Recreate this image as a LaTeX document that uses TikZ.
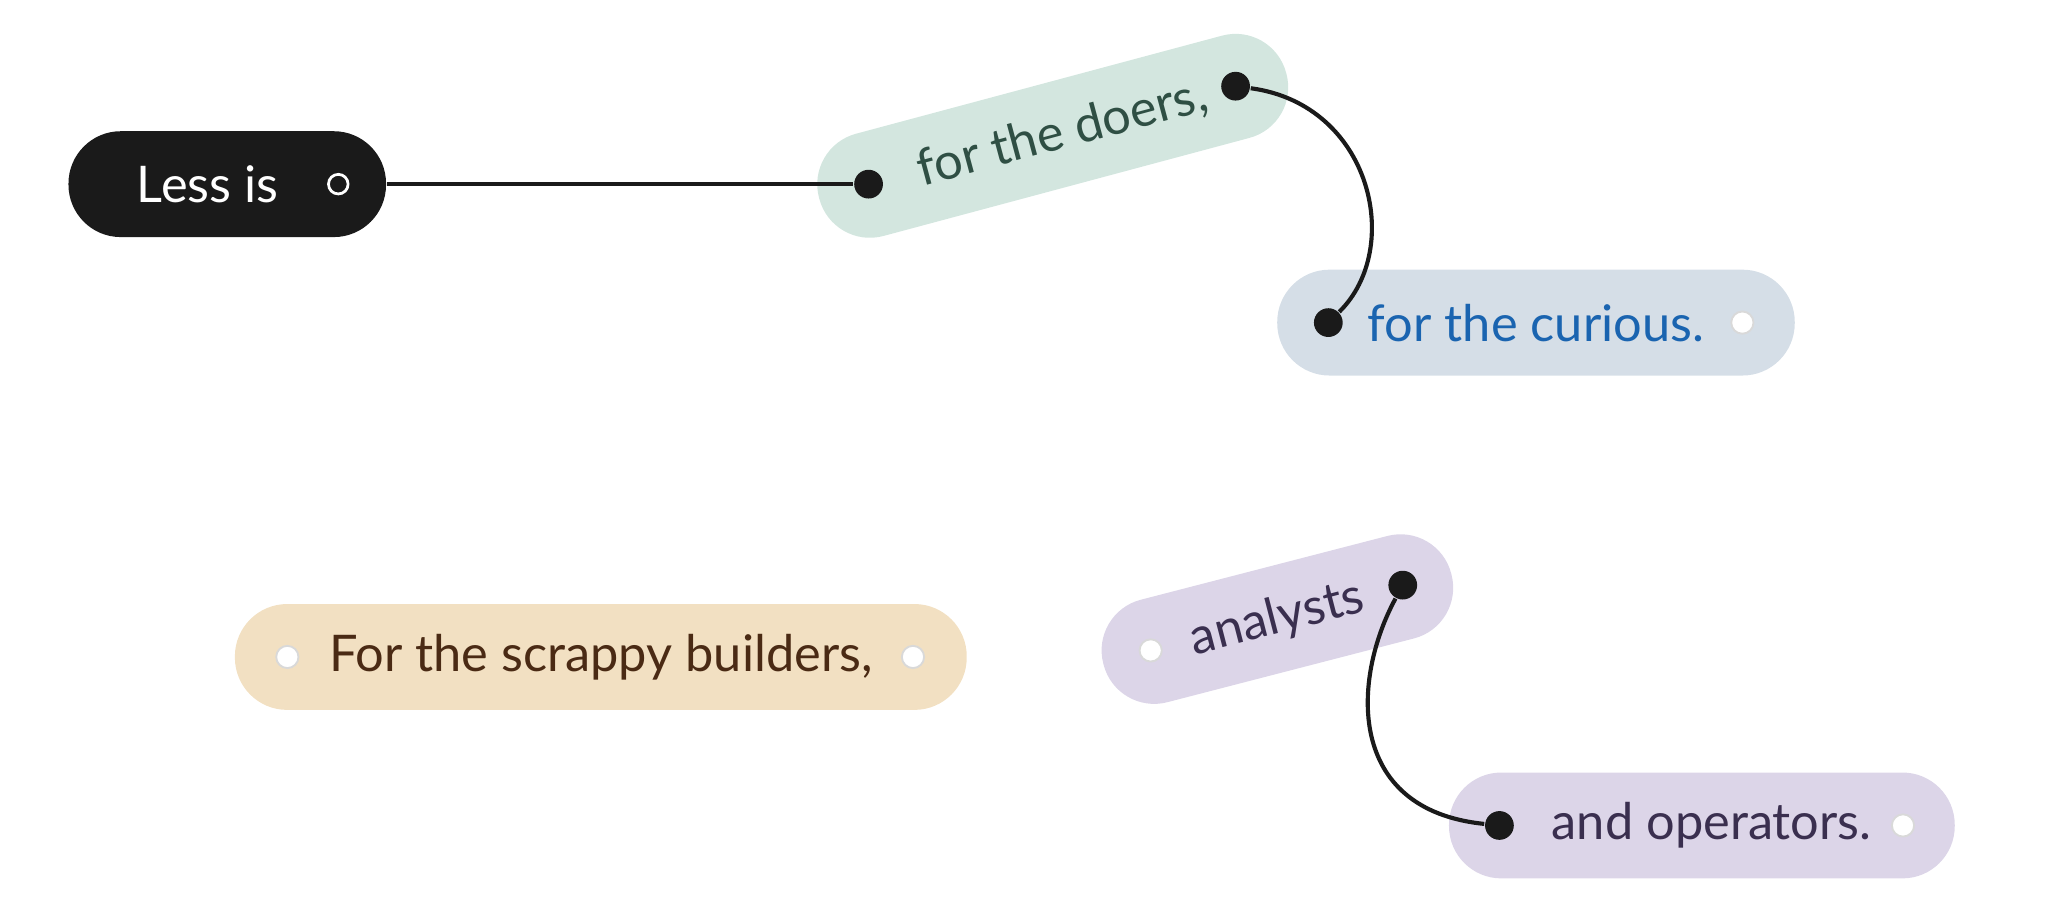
\documentclass[tikz,border=0pt]{standalone}
\usepackage{fontspec}
\setmainfont{Lato}
\definecolor{pillblack}{HTML}{1A1A1A}
\definecolor{doersbg}{HTML}{D3E6DF}
\definecolor{doersfg}{HTML}{2F4F44}
\definecolor{curiousbg}{HTML}{D5DEE7}
\definecolor{curiousfg}{HTML}{1A64B0}
\definecolor{buildbg}{HTML}{F2E0C2}
\definecolor{buildfg}{HTML}{4A2A14}
\definecolor{lavbg}{HTML}{DCD5E8}
\definecolor{lavfg}{HTML}{3A2F4F}
\begin{document}
\begin{tikzpicture}[x=0.01cm,y=-0.01cm]
		\tikzset{pill/.style={rectangle, rounded corners=0.4cm, minimum height=0.81cm, inner sep=0pt, font=\fontsize{11}{13}\selectfont},
			knob/.style={circle, fill=pillblack, minimum size=0.22cm, inner sep=0pt},
			hole/.style={circle, fill=white, draw=black!15, minimum size=0.17cm, inner sep=0pt},
			wire/.style={draw=pillblack, line width=0.9pt}};

		\useasboundingbox (0,0) rectangle (1568,704);

		\node[pill, fill=pillblack, text=white, minimum width=2.43cm] (less) at (174,141) {\hspace{-0.3cm}Less is};
		\node[circle, draw=white, line width=0.6pt, minimum size=0.15cm, inner sep=0pt] (lesshole) at (259,141) {};

		\node[pill, fill=doersbg, text=doersfg, minimum width=3.7cm, rotate=15] (doers) at (806,104) {\hspace{0.15cm}for the doers,};
		\node[knob] (d1) at (665,141) {};
		\node[knob] (d2) at (946,66) {};

		\node[pill, fill=curiousbg, text=curiousfg, minimum width=3.96cm] (curious) at (1176,247) {for the curious.};
		\node[knob] (c1) at (1017,247) {};
		\node[hole] (c2) at (1334,247) {};

		\node[pill, fill=buildbg, text=buildfg, minimum width=5.6cm] (build) at (460,503) {For the scrappy builders,};
		\node[hole] (b1) at (220,503) {};
		\node[hole] (b2) at (699,503) {};

		\node[pill, fill=lavbg, text=lavfg, minimum width=2.75cm, rotate=14.5] (analysts) at (978,474) {analysts};
		\node[hole] (a1) at (881,498) {};
		\node[knob] (a2) at (1074,448) {};

		\node[pill, fill=lavbg, text=lavfg, minimum width=3.87cm] (oper) at (1303,632) {\hspace{0.15cm}and operators.};
		\node[knob] (o1) at (1148,632) {};
		\node[hole] (o2) at (1457,632) {};

		\draw[wire] (less.east) -- (d1);
		\draw[wire] (d2) .. controls (1050,80) and (1075,190) .. (c1);
		\draw[wire] (a2) .. controls (1035,520) and (1030,620) .. (o1);
	\end{tikzpicture}
\end{document}
